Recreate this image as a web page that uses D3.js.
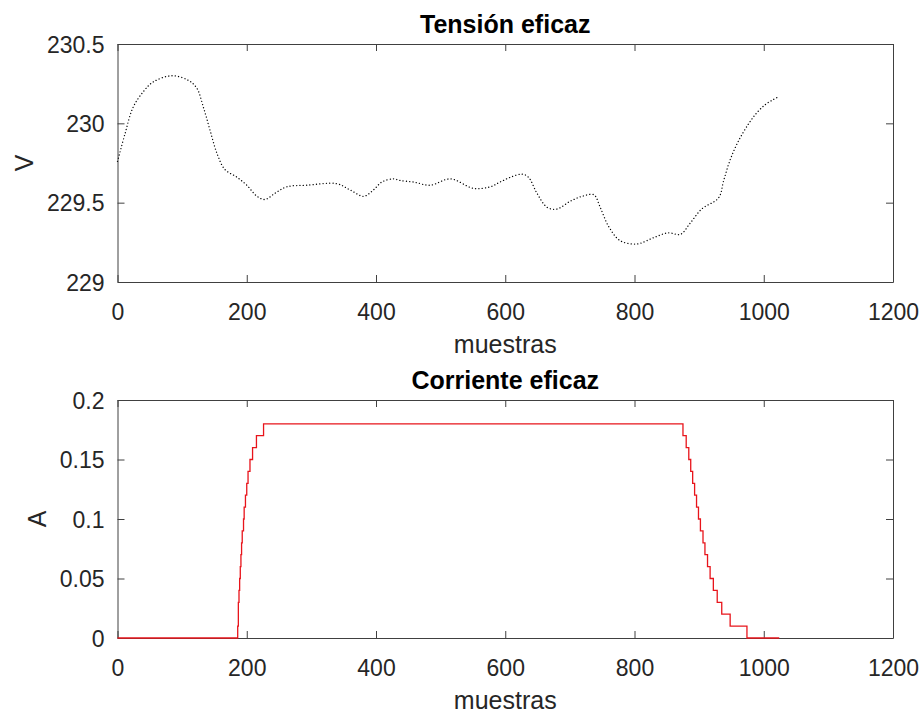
<!DOCTYPE html>
<html>
<head>
<meta charset="utf-8">
<script src="https://cdn.jsdelivr.net/npm/d3@7"></script>
<style>
  body { margin: 0; background: #fff; }
  svg { display: block; font-family: "Liberation Sans", Arial, sans-serif; }
</style>
</head>
<body>
<script>
// tensión eficaz (muestra, V)
var tensionMuestras = [0, 12, 24, 40, 55, 84, 110, 123, 133, 143, 154, 166, 185, 200, 216, 228, 244, 262, 293, 339, 360, 381, 396, 409, 427, 437, 458, 484, 515, 551, 577, 592, 608, 626, 636, 649, 665, 680, 701, 719, 737, 747, 760, 778, 804, 830, 852, 871, 886, 904, 930, 938, 948, 961, 977, 990, 1003, 1015, 1024];
var tensionValores = [229.76, 229.94, 230.10, 230.20, 230.26, 230.30, 230.27, 230.22, 230.10, 229.96, 229.81, 229.71, 229.66, 229.61, 229.54, 229.52, 229.56, 229.60, 229.61, 229.62, 229.58, 229.54, 229.58, 229.63, 229.65, 229.64, 229.63, 229.61, 229.65, 229.59, 229.60, 229.63, 229.66, 229.68, 229.66, 229.56, 229.47, 229.46, 229.51, 229.54, 229.55, 229.47, 229.35, 229.26, 229.24, 229.28, 229.31, 229.30, 229.37, 229.46, 229.53, 229.64, 229.77, 229.89, 230.00, 230.07, 230.12, 230.15, 230.17];

// corriente eficaz: muestra donde empieza cada escalón y su valor (A)
var corrienteMuestras = [0, 185, 186, 187, 188, 189, 190, 191, 192, 193, 195, 196, 198, 200, 202, 205, 209, 215, 226, 875, 880, 884, 887, 890, 893, 896, 899, 902, 906, 909, 913, 917, 922, 928, 935, 948, 974, 1024];
var corrienteValores = [0, 0, 0.01, 0.03, 0.04, 0.05, 0.06, 0.07, 0.08, 0.09, 0.10, 0.11, 0.12, 0.13, 0.14, 0.15, 0.16, 0.17, 0.18, 0.17, 0.16, 0.15, 0.14, 0.13, 0.12, 0.11, 0.10, 0.09, 0.08, 0.07, 0.06, 0.05, 0.04, 0.03, 0.02, 0.01, 0, 0];

var xTicks = [0, 200, 400, 600, 800, 1000, 1200];
var tensionTicks = [229, 229.5, 230, 230.5];
var corrienteTicks = [0, 0.05, 0.1, 0.15, 0.2];

var W = 924, H = 714;
var left = 117.5, right = 893;
var tickLen = 7;
var axisColor = "#404040", textColor = "#262626";

var svg = d3.select("body").append("svg").attr("width", W).attr("height", H);

function panel(cfg) {
  var x = d3.scaleLinear().domain([0, 1200]).range([left, right]);
  var y = d3.scaleLinear().domain(cfg.domain).range([cfg.bottom, cfg.top]);
  var g = svg.append("g");

  // ejes tipo MATLAB: ticks hacia dentro en los cuatro lados
  var ax = [
    d3.axisBottom(x).tickValues(xTicks), d3.axisTop(x).tickValues(xTicks),
    d3.axisLeft(y).tickValues(cfg.ticks), d3.axisRight(y).tickValues(cfg.ticks)
  ];
  var pos = ["translate(0," + cfg.bottom + ")", "translate(0," + cfg.top + ")",
             "translate(" + left + ",0)", "translate(" + right + ",0)"];
  ax.forEach(function (a, i) {
    var sel = g.append("g").attr("transform", pos[i])
      .call(a.tickSizeInner(-tickLen).tickSizeOuter(0).tickFormat(function (d) { return d3.format("")(d); }));
    sel.select(".domain").attr("stroke", axisColor);
    sel.selectAll(".tick line").attr("stroke", axisColor);
    if (i === 0) {
      sel.selectAll(".tick text").attr("y", 38).attr("dy", 0);
    } else if (i === 2) {
      sel.selectAll(".tick text").attr("x", -13).attr("dy", "0.35em");
    } else {
      sel.selectAll(".tick text").remove();
    }
    sel.selectAll(".tick text").attr("fill", textColor).attr("font-size", 23)
      .attr("font-family", "Liberation Sans, Arial, sans-serif");
  });

  // la línea va encima de los ejes (como en MATLAB, se ve sobre el borde)
  var data = cfg.xs.map(function (d, i) { return [d, cfg.ys[i]]; });
  var line = d3.line().x(function (d) { return x(d[0]); }).y(function (d) { return y(d[1]); }).curve(cfg.curve);
  g.append("path").datum(data).attr("d", line)
    .attr("fill", "none").attr("stroke", cfg.color).attr("stroke-width", cfg.width)
    .attr("stroke-dasharray", cfg.dash || null).attr("stroke-linecap", cfg.dash ? "round" : "butt");

  g.append("text").attr("x", (left + right) / 2).attr("y", cfg.top - 11)
    .attr("text-anchor", "middle").attr("font-weight", "bold").attr("font-size", 25)
    .attr("fill", "#000").text(cfg.title);
  g.append("text").attr("x", (left + right) / 2).attr("y", cfg.bottom + 71)
    .attr("text-anchor", "middle").attr("font-size", 25).attr("fill", textColor).text("muestras");
  g.append("text").attr("transform", "translate(" + cfg.labelX + "," + (cfg.top + cfg.bottom) / 2 + ") rotate(-90)")
    .attr("text-anchor", "middle").attr("dy", "0.35em").attr("font-size", 25).attr("fill", textColor).text(cfg.ylabel);
}

panel({
  top: 44, bottom: 282, domain: [229, 230.5], ticks: tensionTicks,
  xs: tensionMuestras, ys: tensionValores, curve: d3.curveCatmullRom,
  color: "#000", width: 1.3, dash: "0.1 3.2",
  title: "Tensión eficaz", ylabel: "V", labelX: 24
});

panel({
  top: 400, bottom: 638, domain: [0, 0.2], ticks: corrienteTicks,
  xs: corrienteMuestras, ys: corrienteValores, curve: d3.curveStepAfter,
  color: "#e8141b", width: 1.3,
  title: "Corriente eficaz", ylabel: "A", labelX: 37
});
</script>
</body>
</html>
